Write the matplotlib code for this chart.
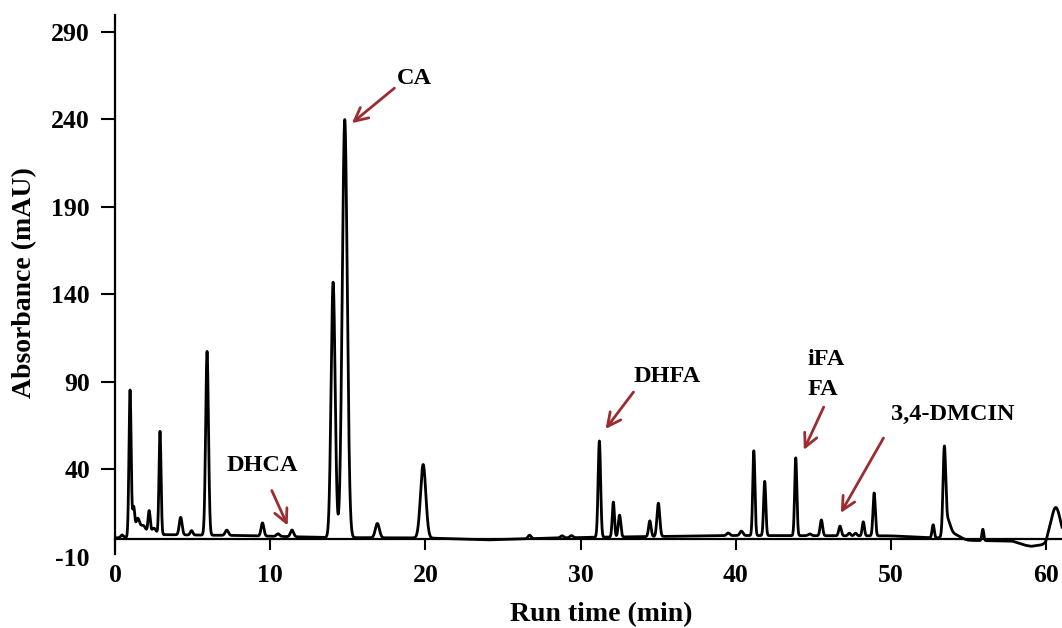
import numpy as np
import matplotlib
matplotlib.use("Agg")
import matplotlib.pyplot as plt

### DATA
# peak table: retention time (min), height (mAU), sigma (min)
peak_times = [0.45, 0.97, 1.2, 1.45, 1.8, 2.2, 2.5, 2.9, 4.23, 4.93, 5.93, 7.2,
              9.5, 10.5, 11.4, 14.05, 14.8, 16.9, 19.85, 26.7, 28.8, 29.4,
              31.2, 32.1, 32.5, 34.45, 35.0, 39.5, 40.35, 41.15, 41.85, 43.85,
              44.75, 45.5, 46.7, 47.3, 47.7, 48.2, 48.9, 52.7, 53.42, 53.62, 54.0,
              55.9, 60.6]
peak_heights = [1.5, 84, 16, 9, 6, 13, 4, 59, 10, 2.5, 105, 3,
                7.5, 1.5, 3.8, 146, 239, 8.2, 42, 2, 1.2, 1.2,
                55, 20, 12.5, 9, 19, 1.5, 2.5, 48.5, 31, 44.5,
                1, 9, 5.5, 1.5, 1.5, 8, 24.5, 7.5, 47, 9, 3,
                6.5, 19]
peak_widths = [0.08, 0.07, 0.07, 0.12, 0.2, 0.07, 0.15, 0.065, 0.09, 0.08, 0.09, 0.1,
               0.09, 0.1, 0.1, 0.13, 0.16, 0.13, 0.17, 0.1, 0.1, 0.1,
               0.08, 0.07, 0.08, 0.08, 0.09, 0.1, 0.1, 0.07, 0.07, 0.07,
               0.1, 0.08, 0.08, 0.08, 0.08, 0.07, 0.075, 0.07, 0.085, 0.18, 0.4,
               0.06, 0.3]
# baseline drift knots
base_t = [0, 0.8, 3, 8, 12, 14, 20, 24, 28, 31, 40, 50, 53, 55, 57.8, 58.6, 59.0, 59.5, 59.95, 60.1, 61.2]
base_v = [0.6, 1.0, 2.5, 2.0, 1.2, 0.8, 0.6, -0.5, 0.5, 1.0, 2.0, 1.8, 0.5, -0.8, -1.2, -3.5, -4.2, -3.6, -3.2, -1.0, -1.0]

yticks = [-10, 40, 90, 140, 190, 240, 290]
xticks = [0, 10, 20, 30, 40, 50, 60]

# labelled compounds: text, text position, arrow tail, arrow head
labels = ["CA", "DHCA", "DHFA", "iFA\nFA", "3,4-DMCIN"]
label_xy = [(19.3, 263.4), (9.47, 42.0), (35.54, 92.6), (44.6, 94.0), (53.96, 71.1)]
label_ha = ["center", "center", "center", "left", "center"]
arrow_tail = [(18.0, 257.7), (10.1, 27.7), (33.4, 84.0), (45.65, 75.4), (49.5, 57.7)]
arrow_head = [(15.26, 237.7), (11.12, 7.7), (31.6, 62.9), (44.37, 50.9), (46.75, 14.9)]

### BUILD TRACE
t = np.linspace(0, 61.2, 8000)
signal = np.interp(t, base_t, base_v)
for rt, h, s in zip(peak_times, peak_heights, peak_widths):
    signal += h * np.exp(-0.5 * ((t - rt) / s) ** 2)

### PLOT
plt.rcParams['font.family'] = ['Liberation Serif', 'DejaVu Serif']
plt.rcParams['font.weight'] = 'bold'
plt.rcParams['axes.unicode_minus'] = False

fig = plt.figure(figsize=(10.62, 6.28), dpi=100)
ax = fig.add_axes([115 / 1062, 1 - 556.5 / 628, 947 / 1062, 541.5 / 628])

ax.plot(t, signal, color='black', lw=2.0)

ax.set_xlim(0, 61)
ax.set_ylim(-10, 299.5)

ax.spines['top'].set_visible(False)
ax.spines['right'].set_visible(False)
ax.spines['bottom'].set_position(('data', 0))
ax.spines['left'].set_bounds(-8.5, 299.5)
for sp in ['left', 'bottom']:
    ax.spines[sp].set_linewidth(1.6)

ax.set_xticks(xticks)
ax.set_yticks(yticks)
ax.tick_params(axis='x', direction='out', length=8, width=1.5, pad=10, labelsize=18.5)
ax.tick_params(axis='y', direction='out', length=10, width=1.5, pad=8, labelsize=18.5)
ax.yaxis.get_major_ticks()[0].tick1line.set_visible(False)

fig.text(601 / 1062, 1 - 615 / 628, "Run time (min)", ha='center', va='center',
         fontsize=20, fontweight='bold')
fig.text(25 / 1062, 1 - 283 / 628, "Absorbance (mAU)", ha='center', va='center',
         rotation=90, fontsize=20, fontweight='bold')

arrow_color = '#9b2d31'
for lab, (lx, ly), ha, tail, head in zip(labels, label_xy, label_ha, arrow_tail, arrow_head):
    ax.text(lx, ly, lab, ha=ha, va='center', fontsize=17.5, fontweight='bold',
            linespacing=1.55)
    ax.annotate('', xy=head, xytext=tail,
                arrowprops=dict(arrowstyle='->', color=arrow_color, lw=2,
                                mutation_scale=24, shrinkA=0, shrinkB=0))

fig.savefig('out.png', dpi=100)
